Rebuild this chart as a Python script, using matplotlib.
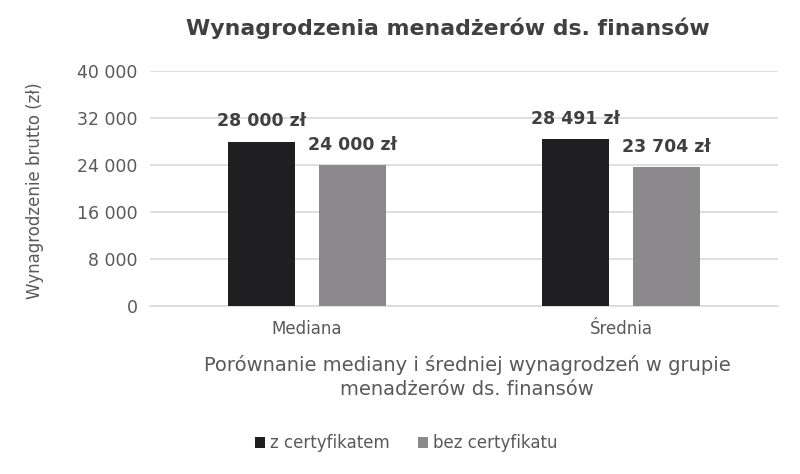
import numpy as np
import matplotlib
matplotlib.use("Agg")
import matplotlib.pyplot as plt

# dane
categories = ["Mediana", "Średnia"]
z_certyfikatem = [28000, 28491]
bez_certyfikatu = [24000, 23704]
series_names = ["z certyfikatem", "bez certyfikatu"]
y_ticks = [0, 8000, 16000, 24000, 32000, 40000]
y_tick_labels = ["0", "8 000", "16 000", "24 000", "32 000", "40 000"]

plt.rcParams["font.family"] = ["DejaVu Sans"]

def fmt(v):
    return f"{v:,}".replace(",", " ") + " zł"

fig = plt.figure(figsize=(8, 4.74), dpi=100)
ax = fig.add_axes([0.1875, 0.3544, 0.785, 0.4956])

x = np.arange(len(categories))
w = 0.213
off = 0.146
b1 = ax.bar(x - off, z_certyfikatem, w, color="#1f1f22", label=series_names[0], zorder=3)
b2 = ax.bar(x + off, bez_certyfikatu, w, color="#8c898c", label=series_names[1], zorder=3)

for bars, vals in [(b1, z_certyfikatem), (b2, bez_certyfikatu)]:
    for r, v in zip(bars, vals):
        ax.annotate(fmt(v), (r.get_x() + r.get_width() / 2, v), xytext=(0, 8),
                    textcoords="offset points", ha="center", va="bottom",
                    fontsize=12.5, fontweight="bold", color="#404040")

ax.set_xlim(-0.5, 1.5)
ax.set_ylim(0, 40000)
ax.set_yticks(y_ticks)
ax.set_yticklabels(y_tick_labels)
ax.set_xticks(x)
ax.set_xticklabels(categories)
ax.tick_params(axis="y", length=0, pad=9, labelsize=12.5, labelcolor="#595959")
ax.tick_params(axis="x", length=0, pad=10, labelsize=12, labelcolor="#595959")
ax.grid(axis="y", color="#d9d9d9", linewidth=1.2, zorder=0)
for s in ["top", "right", "left"]:
    ax.spines[s].set_visible(False)
ax.spines["bottom"].set_color("#d9d9d9")
ax.spines["bottom"].set_linewidth(1.2)

ax.set_ylabel("Wynagrodzenie brutto (zł)", fontsize=12, color="#595959")
ax.yaxis.set_label_coords(-0.168, 0.49)

fig.text(0.56, 0.94, "Wynagrodzenia menadżerów ds. finansów", ha="center", va="center",
         fontsize=15.8, fontweight="bold", color="#404040")
fig.text(0.584, 0.204, "Porównanie mediany i średniej wynagrodzeń w grupie\nmenadżerów ds. finansów",
         ha="center", va="center", fontsize=14, color="#595959", linespacing=1.35)

leg = fig.legend(loc="center", bbox_to_anchor=(0.508, 0.065), ncol=2, frameon=False,
                 fontsize=12, handlelength=0.6, handleheight=0.6, handletextpad=0.3,
                 columnspacing=1.7)
for t in leg.get_texts():
    t.set_color("#595959")

fig.savefig("out.png", dpi=100, facecolor="white")
